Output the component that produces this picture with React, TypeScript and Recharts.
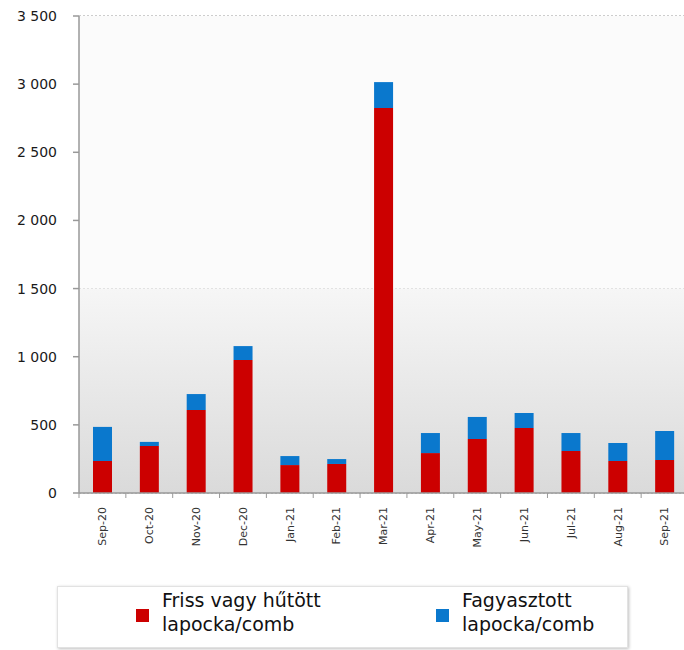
import React from "react";
import {
  Bar,
  BarChart,
  CartesianGrid,
  ReferenceArea,
  XAxis,
  YAxis,
} from "recharts";

const months = [
  "Sep-20", "Oct-20", "Nov-20", "Dec-20", "Jan-21", "Feb-21", "Mar-21",
  "Apr-21", "May-21", "Jun-21", "Jul-21", "Aug-21", "Sep-21",
];
const fresh = [235, 345, 609, 976, 205, 213, 2825, 293, 396, 477, 308, 235, 242];
const frozen = [250, 30, 117, 102, 66, 36, 190, 147, 162, 110, 132, 132, 213];
const yTicks = [0, 500, 1000, 1500, 2000, 2500, 3000, 3500];

const seriesNames = ["Friss vagy hűtött lapocka/comb", "Fagyasztott lapocka/comb"];

const COLORS = {
  fresh: "#CC0000",
  frozen: "#0A78CD",
};

const data = months.map((m, i) => ({ month: m, fresh: fresh[i], frozen: frozen[i] }));

const CHART_W = 688;
const PLOT_LEFT = 79;
const BAND = (CHART_W - PLOT_LEFT) / months.length;

function formatThousands(v: number) {
  return String(v).replace(/\B(?=(\d{3})+(?!\d))/g, " ");
}

function MonthTick(props: any) {
  const { x, y, payload, index } = props;
  const axisY = y - 14;
  return (
    <g>
      <line x1={x - BAND / 2} x2={x - BAND / 2} y1={axisY} y2={axisY + 5} stroke="#999" />
      {index === months.length - 1 && (
        <line x1={x + BAND / 2} x2={x + BAND / 2} y1={axisY} y2={axisY + 5} stroke="#999" />
      )}
      <text
        x={x}
        y={y}
        dy="0.35em"
        transform={`rotate(-90, ${x}, ${y})`}
        textAnchor="end"
        fontSize={11}
        fontFamily="DejaVu Sans"
        fill="#333"
      >
        {payload.value}
      </text>
    </g>
  );
}

export default function App() {
  return (
    <div style={{ position: "relative", width: 684, height: 650, overflow: "hidden", background: "#fff" }}>
      <style>{"body{margin:0}"}</style>
      <BarChart
        width={CHART_W}
        height={650}
        data={data}
        barSize={19}
        margin={{ top: 16, right: 0, left: 0, bottom: 97 }}
      >
        <defs>
          <linearGradient id="bgGrad" x1="0" y1="0" x2="0" y2="1">
            <stop offset="0%" stopColor="#f6f6f6" />
            <stop offset="100%" stopColor="#dadada" />
          </linearGradient>
        </defs>
        <ReferenceArea y1={1500} y2={3500} fill="#fbfbfb" fillOpacity={1} stroke="none" ifOverflow="hidden" />
        <ReferenceArea y1={0} y2={1500} fill="url(#bgGrad)" fillOpacity={1} stroke="none" ifOverflow="hidden" />
        <CartesianGrid vertical={false} stroke="#9a9a9a" strokeDasharray="2 2" />
        <XAxis
          dataKey="month"
          interval={0}
          tickLine={false}
          tickSize={6}
          tickMargin={8}
          height={60}
          stroke="#999"
          strokeWidth={1.5}
          tick={<MonthTick />}
        />
        <YAxis
          domain={[0, 3500]}
          ticks={yTicks}
          width={PLOT_LEFT}
          tickSize={6}
          tickMargin={16}
          stroke="#999"
          strokeWidth={1.5}
          tickFormatter={formatThousands}
          tick={{ fontSize: 14, fontFamily: "DejaVu Sans", fill: "#1a1a1a" }}
        />
        <Bar dataKey="fresh" stackId="a" fill={COLORS.fresh} isAnimationActive={false} />
        <Bar dataKey="frozen" stackId="a" fill={COLORS.frozen} isAnimationActive={false} />
      </BarChart>
      <div
        style={{
          position: "absolute",
          left: 57,
          top: 586,
          width: 571,
          height: 62,
          boxSizing: "border-box",
          border: "1px solid #e2e2e2",
          boxShadow: "1px 1px 3px rgba(0,0,0,0.25)",
          background: "#fff",
          fontFamily: "DejaVu Sans",
          fontSize: 19,
          lineHeight: "24px",
          color: "#111",
        }}
      >
        {seriesNames.map((name, i) => {
          const words = name.split(" ");
          const last = words.pop();
          return (
            <div
              key={name}
              style={{ position: "absolute", left: i === 0 ? 78 : 378, top: 1, display: "flex", alignItems: "center" }}
            >
              <span
                style={{
                  display: "inline-block",
                  width: 13,
                  height: 13,
                  background: i === 0 ? COLORS.fresh : COLORS.frozen,
                  marginRight: 13,
                  marginTop: 6,
                }}
              />
              <span>
                {words.join(" ")}
                <br />
                {last}
              </span>
            </div>
          );
        })}
      </div>
    </div>
  );
}
